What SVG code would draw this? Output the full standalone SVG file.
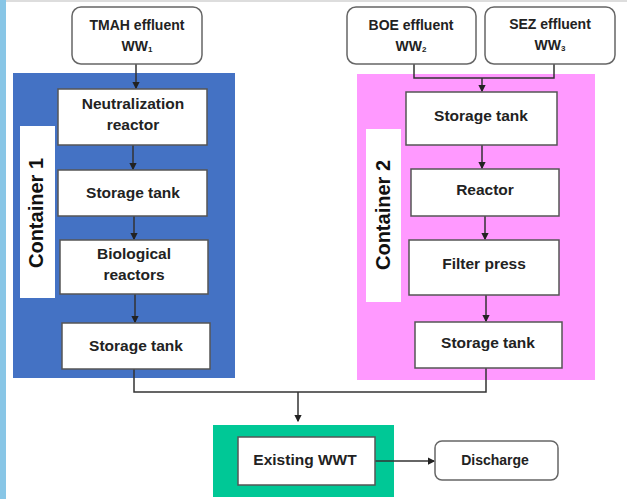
<svg xmlns="http://www.w3.org/2000/svg" width="627" height="499" viewBox="0 0 627 499">
<defs>
<style>
.t{font-family:"Liberation Sans",Arial,sans-serif;font-weight:bold;font-size:15.5px;fill:#222;text-anchor:middle}
.s{font-family:"Liberation Sans",Arial,sans-serif;font-weight:bold;font-size:14px;fill:#222;text-anchor:middle}
.lbl{font-family:"Liberation Sans",Arial,sans-serif;font-weight:bold;font-size:20px;fill:#111;text-anchor:middle}
.box{fill:#fff;stroke:#555;stroke-width:1.5}
.rbox{fill:#fff;stroke:#666;stroke-width:1.5}
.ln{fill:none;stroke:#333;stroke-width:1.5}
</style>
<marker id="ah" viewBox="0 0 6 6" refX="5" refY="3" markerWidth="5" markerHeight="5" orient="auto">
<path d="M0,0 L6,3 L0,6 Z" fill="#222"/>
</marker>
</defs>
<rect x="0" y="0" width="627" height="499" fill="#fff"/>
<rect x="0" y="0" width="627" height="2" fill="#ddd"/>
<rect x="0" y="0" width="6" height="499" fill="#88c6e6"/>

<g id="container1">
<rect x="13" y="73" width="222" height="305" fill="#4472c4"/>
<rect x="20" y="126" width="35" height="172" fill="#fff"/>
<text class="lbl" transform="translate(43,213) rotate(-90)">Container 1</text>
</g>
<g id="container2">
<rect x="357" y="74" width="238" height="306" fill="#ff99ff"/>
<rect x="366" y="129" width="35" height="173" fill="#fff"/>
<text class="lbl" transform="translate(390,215) rotate(-90)">Container 2</text>
</g>
<g id="wwtframe">
<rect x="213" y="425" width="181" height="72" fill="#00c896"/>
</g>

<g id="connectors">
<line class="ln" x1="136" y1="64" x2="136" y2="88" marker-end="url(#ah)"/>
<line class="ln" x1="133" y1="145" x2="133" y2="169" marker-end="url(#ah)"/>
<line class="ln" x1="134" y1="216" x2="134" y2="239" marker-end="url(#ah)"/>
<line class="ln" x1="135" y1="294" x2="135" y2="322" marker-end="url(#ah)"/>
<polyline class="ln" points="414,64 414,78 554,78 554,64"/>
<line class="ln" x1="482" y1="78" x2="482" y2="91" marker-end="url(#ah)"/>
<line class="ln" x1="482" y1="145" x2="482" y2="168" marker-end="url(#ah)"/>
<line class="ln" x1="485" y1="216" x2="485" y2="239" marker-end="url(#ah)"/>
<line class="ln" x1="486" y1="295" x2="486" y2="321" marker-end="url(#ah)"/>
<polyline class="ln" points="134,369 134,392 486,392 486,368"/>
<line class="ln" x1="298" y1="392" x2="298" y2="421" marker-end="url(#ah)"/>
<line class="ln" x1="375" y1="461" x2="434" y2="461" marker-end="url(#ah)"/>
</g>

<g id="tmah">
<rect class="rbox" x="72" y="7" width="130" height="57" rx="9"/>
<text class="s" x="137" y="30">TMAH effluent</text>
<text class="s" x="137" y="51">WW<tspan font-size="8" dy="1">1</tspan></text>
</g>
<g id="boe">
<rect class="rbox" x="347" y="7" width="129" height="57" rx="9"/>
<text class="s" x="411" y="30">BOE effluent</text>
<text class="s" x="411" y="51">WW<tspan font-size="8" dy="1">2</tspan></text>
</g>
<g id="sez">
<rect class="rbox" x="485" y="7" width="130" height="57" rx="9"/>
<text class="s" x="550" y="29">SEZ effluent</text>
<text class="s" x="550" y="50">WW<tspan font-size="8" dy="1">3</tspan></text>
</g>

<g id="neutralization">
<rect class="box" x="58" y="89" width="149" height="56"/>
<text class="t" x="133" y="109">Neutralization</text>
<text class="t" x="133" y="130">reactor</text>
</g>
<g id="storage1">
<rect class="box" x="58" y="170" width="149" height="46"/>
<text class="t" x="133" y="198">Storage tank</text>
</g>
<g id="bio">
<rect class="box" x="60" y="240" width="148" height="54"/>
<text class="t" x="134" y="259">Biological</text>
<text class="t" x="134" y="280">reactors</text>
</g>
<g id="storage2">
<rect class="box" x="62" y="323" width="148" height="46"/>
<text class="t" x="136" y="351">Storage tank</text>
</g>

<g id="storage3">
<rect class="box" x="406" y="92" width="151" height="53"/>
<text class="t" x="481" y="121">Storage tank</text>
</g>
<g id="reactor">
<rect class="box" x="411" y="169" width="148" height="47"/>
<text class="t" x="485" y="195">Reactor</text>
</g>
<g id="filter">
<rect class="box" x="409" y="240" width="150" height="55"/>
<text class="t" x="484" y="269">Filter press</text>
</g>
<g id="storage4">
<rect class="box" x="415" y="322" width="147" height="46"/>
<text class="t" x="488" y="348">Storage tank</text>
</g>

<g id="wwt">
<rect class="box" x="238" y="437" width="137" height="48"/>
<text class="t" x="305" y="465">Existing WWT</text>
</g>
<g id="discharge">
<rect class="rbox" x="435" y="441" width="123" height="39" rx="7"/>
<text class="s" x="495" y="465">Discharge</text>
</g>
</svg>
